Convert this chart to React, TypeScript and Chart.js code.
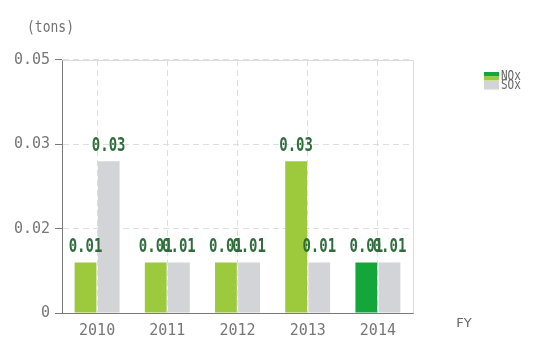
import { useEffect, useRef } from 'react';
import { Chart, registerables } from 'chart.js';

Chart.register(...registerables);

const categories = ['2010', '2011', '2012', '2013', '2014'];
const noxValues = [0.01, 0.01, 0.01, 0.03, 0.01];
const soxValues = [0.03, 0.01, 0.01, 0.01, 0.01];
const noxColors = ['#9dc93c', '#9dc93c', '#9dc93c', '#9dc93c', '#13a63b'];
const soxColor = '#d3d4d8';
const yMax = 0.05;
const yTickLabels = ['0', '0.02', '0.03', '0.05'];
const unitLabel = '(tons)';
const xTitle = 'FY';
const legendLabels = ['NOx', 'SOx'];

const MONO = '"DejaVu Sans Mono", monospace';

const extrasPlugin = {
  id: 'extras',
  beforeDatasetsDraw(chart: any) {
    const { ctx, chartArea } = chart;
    ctx.save();
    ctx.strokeStyle = '#dcdcdc';
    ctx.lineWidth = 1;
    ctx.setLineDash([]);
    ctx.beginPath();
    ctx.moveTo(Math.round(chartArea.left) + 0.5, Math.round(chartArea.top) + 0.5);
    ctx.lineTo(Math.round(chartArea.right) + 0.5, Math.round(chartArea.top) + 0.5);
    ctx.lineTo(Math.round(chartArea.right) + 0.5, Math.round(chartArea.bottom) + 0.5);
    ctx.stroke();
    ctx.restore();
  },
  afterDatasetsDraw(chart: any) {
    const { ctx } = chart;
    ctx.save();
    ctx.fillStyle = '#2f6e3c';
    ctx.font = 'bold 14px ' + MONO;
    ctx.textAlign = 'center';
    ctx.textBaseline = 'alphabetic';
    chart.data.datasets.forEach((ds: any, di: number) => {
      const meta = chart.getDatasetMeta(di);
      meta.data.forEach((bar: any, i: number) => {
        const v = ds.data[i];
        ctx.save();
        ctx.translate(bar.x, bar.y - 10);
        ctx.scale(1, 1.4);
        ctx.fillText(Number(v).toFixed(2), 0, 0);
        ctx.restore();
      });
    });
    ctx.restore();
  },
  afterDraw(chart: any) {
    const { ctx, chartArea } = chart;
    ctx.save();
    // unit label
    ctx.fillStyle = '#707070';
    ctx.font = '13px ' + MONO;
    ctx.textAlign = 'left';
    ctx.textBaseline = 'middle';
    ctx.save();
    ctx.translate(27, 28);
    ctx.scale(1, 1.2);
    ctx.fillText(unitLabel, 0, 0);
    ctx.restore();
    // x title
    ctx.font = '13px "DejaVu Sans", sans-serif';
    ctx.textAlign = 'center';
    ctx.fillStyle = '#666';
    ctx.fillText(xTitle, chartArea.right + 51, chartArea.bottom + 11);
    // legend
    const lx = chartArea.right + 71;
    const ly = 72;
    ctx.fillStyle = noxColors[4];
    ctx.fillRect(lx, ly, 15, 4.5);
    ctx.fillStyle = noxColors[0];
    ctx.fillRect(lx, ly + 4.5, 15, 4);
    ctx.fillStyle = soxColor;
    ctx.fillRect(lx, ly + 9, 15, 8.5);
    ctx.fillStyle = '#666';
    ctx.font = '11px ' + MONO;
    ctx.textAlign = 'left';
    ctx.textBaseline = 'middle';
    legendLabels.forEach((t, i) => {
      ctx.save();
      ctx.translate(lx + 17, ly + 4.5 + i * 9);
      ctx.scale(1, 1.2);
      ctx.fillText(t, 0, 0);
      ctx.restore();
    });
    ctx.restore();
  },
};

export default function App() {
  const ref = useRef<HTMLCanvasElement | null>(null);
  useEffect(() => {
    if (!ref.current) return;
    const chart = new Chart(ref.current, {
      type: 'bar',
      data: {
        labels: categories,
        datasets: [
          {
            label: legendLabels[0],
            data: noxValues,
            backgroundColor: noxColors,
            categoryPercentage: 0.66,
            barPercentage: 0.94,
          },
          {
            label: legendLabels[1],
            data: soxValues,
            backgroundColor: soxColor,
            categoryPercentage: 0.66,
            barPercentage: 0.94,
          },
        ],
      },
      options: {
        animation: false,
        responsive: true,
        maintainAspectRatio: false,
        devicePixelRatio: 1,
        layout: { padding: { top: 60, right: 122, left: 0, bottom: 0 } },
        plugins: {
          legend: { display: false },
          tooltip: { enabled: false },
        },
        scales: {
          x: {
            grid: {
              offset: false,
              drawTicks: false,
              color: '#dedede',
              lineWidth: 1,
            },
            border: { color: '#7a7a7a', dash: [6, 4], width: 1 },
            ticks: {
              color: '#777',
              font: { family: MONO, size: 15 },
              padding: 9,
              maxRotation: 0,
            },
            afterFit(scale: any) {
              scale.height = 25;
            },
          },
          y: {
            min: 0,
            max: yMax,
            grid: {
              color: '#dedede',
              tickColor: '#7a7a7a',
              tickLength: 7,
              tickBorderDash: [],
              lineWidth: 1,
            },
            border: { color: '#7a7a7a', dash: [6, 4], width: 1 },
            ticks: {
              color: '#777',
              font: { family: MONO, size: 15 },
              padding: 5,
              callback: (_v: any, i: number) => yTickLabels[i],
            },
            afterBuildTicks(scale: any) {
              const n = yTickLabels.length - 1;
              scale.ticks = yTickLabels.map((_, i) => ({ value: (yMax * i) / n }));
            },
            afterFit(scale: any) {
              scale.width = 62;
            },
          },
        },
      },
      plugins: [extrasPlugin],
    });
    return () => chart.destroy();
  }, []);
  return (
    <div style={{ position: 'fixed', left: 0, top: 0, width: 535, height: 338, background: '#fff' }}>
      <canvas ref={ref} />
    </div>
  );
}
